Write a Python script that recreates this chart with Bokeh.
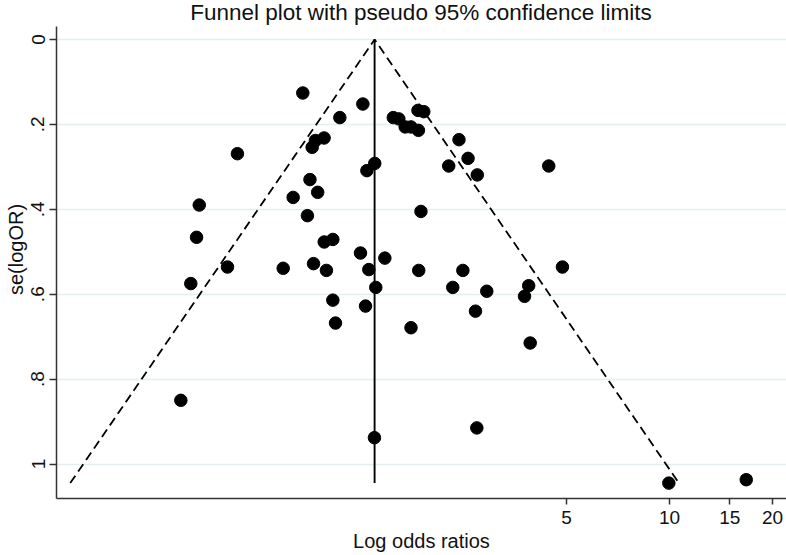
import math
import numpy as np
from bokeh.plotting import figure
from bokeh.models import (Range1d, FixedTicker, CustomJSTickFormatter, Label,
                          ColumnDataSource)
from bokeh.embed import file_html
from bokeh.resources import INLINE

# ---------------- data ----------------
log_or = [-0.165, 0.239, 0.084, -0.022, -0.080, -0.102, -0.605, 0.266, -0.117,
          -0.230, -0.065, -0.862, -0.134, -0.880, -0.021, 0.037, -0.672, -0.297,
          -0.093, -0.006, 0.223, 0.279, -0.919, 0.037, 0.257, 0.055, -0.986,
          0.319, 0.326, 0.317, 0.387, 0.444, 0.481, 0.524, 0.563, 0.613, 0.610,
          0.649, 0.886, 0.947, 0.817, 1.009, 1.490, 0.630, 0.615, 0.912, 1.582,
          0.844, 1.073, 1.355, 1.327, 0.997, 0.563, 1.365, 1.006, 2.298, 2.819]
se_log_or = [0.126, 0.152, 0.184, 0.232, 0.238, 0.254, 0.269, 0.309, 0.330,
             0.372, 0.360, 0.390, 0.415, 0.466, 0.477, 0.471, 0.536, 0.539,
             0.528, 0.544, 0.503, 0.542, 0.575, 0.614, 0.628, 0.668, 0.850,
             0.292, 0.584, 0.938, 0.515, 0.184, 0.187, 0.206, 0.206, 0.214, 0.167,
             0.170, 0.236, 0.280, 0.298, 0.319, 0.298, 0.405, 0.544, 0.544, 0.536,
             0.584, 0.593, 0.580, 0.605, 0.640, 0.679, 0.715, 0.915, 1.045, 1.037]
pooled_log_or = 0.318
z95 = 1.96

x_ticks = [5, 10, 15, 20]
x_tick_labels = ["5", "10", "15", "20"]
y_ticks = [0, 0.2, 0.4, 0.6, 0.8, 1]
y_tick_labels = ["0", ".2", ".4", ".6", ".8", "1"]

title_text = "Funnel plot with pseudo 95% confidence limits"
x_label = "Log odds ratios"
y_label = "se(logOR)"

# ---------------- layout ----------------
W, H = 786, 555
BORDER_L = 56
BORDER_B = 57
PX_PER_LN = 148.6          # horizontal scale (px per log unit)
PX_PER_SE = 424.5          # vertical scale (px per se unit)
REF_X5 = 566.0             # page x of OR = 5
REF_Y0 = 39.0              # page y of se = 0
PAGE = 0

ln5 = math.log(5)
x_start = ln5 + (PAGE + BORDER_L - REF_X5) / PX_PER_LN
x_end = ln5 + (PAGE + W - REF_X5) / PX_PER_LN
y_top = (PAGE - REF_Y0) / PX_PER_SE
y_bottom = (PAGE + H - BORDER_B - REF_Y0) / PX_PER_SE
axis_top = (26 - REF_Y0) / PX_PER_SE

FONT = "Liberation Sans"
TXT = "#111111"
AX = "#333333"

p = figure(width=W, height=H, output_backend="svg", toolbar_location=None,
           x_axis_type="log",
           x_range=Range1d(math.exp(x_start), math.exp(x_end)),
           y_range=Range1d(y_bottom, y_top),
           min_border_left=BORDER_L, min_border_bottom=BORDER_B,
           min_border_right=0, min_border_top=0)
p.outline_line_color = None
p.background_fill_color = "white"
p.border_fill_color = "white"

# grid
p.xgrid.visible = False
p.ygrid.grid_line_color = "#e4edf0"
p.ygrid.grid_line_width = 1.5

# funnel lines
se_arr = np.array(se_log_or)
se_max = float(se_arr.max())
p.line(x=[math.exp(pooled_log_or - z95 * se_max), math.exp(pooled_log_or),
          math.exp(pooled_log_or + z95 * se_max)],
       y=[se_max, 0, se_max], line_color="black", line_width=1.8,
       line_dash="9 5")
p.line(x=[math.exp(pooled_log_or), math.exp(pooled_log_or)], y=[0, se_max],
       line_color="black", line_width=1.9)

src = ColumnDataSource(dict(x=np.exp(np.array(log_or)), y=se_arr))
p.scatter("x", "y", source=src, size=12.5, fill_color="black",
          line_color="black")

# x axis
fmt_code = ("const i = tick_vals.findIndex(t => Math.abs(t - tick) < 1e-9);"
            "return i >= 0 ? tick_text[i] : '';")
xa = p.xaxis[0]
xa.ticker = FixedTicker(ticks=x_ticks, minor_ticks=[])
xa.formatter = CustomJSTickFormatter(
    args=dict(tick_vals=x_ticks, tick_text=x_tick_labels), code=fmt_code)
xa.axis_label = x_label
xa.axis_label_text_font = FONT
xa.axis_label_text_font_style = "normal"
xa.axis_label_text_font_size = "20px"
xa.axis_label_text_color = TXT
xa.axis_label_standoff = 3
xa.major_label_text_font = FONT
xa.major_label_text_font_size = "19px"
xa.major_label_text_color = TXT
xa.major_label_standoff = 6
xa.major_tick_out = 6
xa.major_tick_in = 0
xa.minor_tick_line_color = None
xa.axis_line_color = AX
xa.axis_line_width = 1.5
xa.major_tick_line_color = AX
xa.major_tick_line_width = 1.5

# y axis
ya = p.yaxis[0]
ya.ticker = FixedTicker(ticks=y_ticks, minor_ticks=[])
ya.formatter = CustomJSTickFormatter(
    args=dict(tick_vals=y_ticks, tick_text=y_tick_labels), code=fmt_code)
ya.bounds = (axis_top, y_bottom)
ya.axis_label = y_label
ya.axis_label_text_font = FONT
ya.axis_label_text_font_style = "normal"
ya.axis_label_text_font_size = "20px"
ya.axis_label_text_color = TXT
ya.axis_label_standoff = 2
ya.major_label_text_font = FONT
ya.major_label_text_font_size = "19px"
ya.major_label_text_color = TXT
ya.major_label_orientation = "vertical"
ya.major_label_standoff = 5
ya.major_tick_out = 7
ya.major_tick_in = 0
ya.minor_tick_line_color = None
ya.axis_line_color = AX
ya.axis_line_width = 1.5
ya.major_tick_line_color = AX
ya.major_tick_line_width = 1.5

# title (placed inside the top of the frame)
title_x = math.exp(ln5 + (420.5 - REF_X5) / PX_PER_LN)
title_y = (11.5 - REF_Y0) / PX_PER_SE
p.add_layout(Label(x=title_x, y=title_y, text=title_text, text_align="center",
                   text_baseline="alphabetic", text_font=FONT,
                   text_font_size="22.5px", text_color=TXT))

open("out.html", "w").write(file_html(p, INLINE))
